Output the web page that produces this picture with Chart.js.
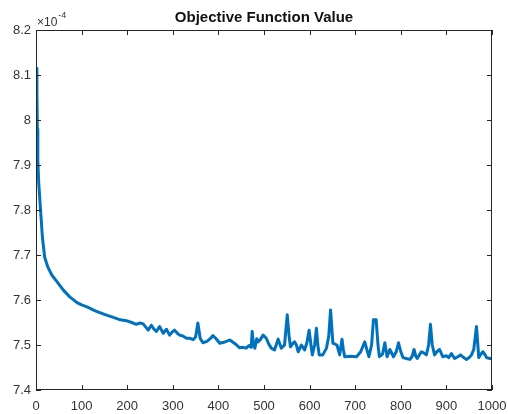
<!DOCTYPE html>
<html>
<head>
<meta charset="utf-8">
<script src="https://cdn.jsdelivr.net/npm/chart.js@4/dist/chart.umd.min.js"></script>
<style>
  html, body { margin: 0; padding: 0; background: #fff; }
  #wrap { width: 508px; height: 414px; position: relative; }
</style>
</head>
<body>
<div id="wrap"><canvas id="objChart"></canvas></div>
<script>
// valores (objetivo en unidades de 1e-4)
const iterations = [
  1, 2, 3, 4, 6, 10, 14, 19, 26, 35, 48, 60, 74, 90, 100, 113, 130, 150, 168, 185,
  198, 210, 220, 228, 235, 246, 253, 258, 264, 271, 279, 286, 293, 300, 304, 310, 315, 322, 330, 337,
  345, 350, 355, 360, 366, 375, 382, 388, 395, 403, 412, 420, 425, 432, 440, 446, 453, 461, 467, 472,
  474, 477, 480, 484, 487, 492, 498, 505, 510, 516, 523, 531, 538, 545, 551, 555, 558, 563, 567, 571,
  575, 582, 589, 594, 599, 603, 606, 611, 615, 618, 621, 629, 637, 642, 646, 651, 660, 666, 671, 674,
  677, 690, 703, 712, 721, 726, 730, 736, 740, 746, 750, 753, 760, 765, 770, 776, 784, 790, 795, 800,
  805, 812, 820, 825, 829, 833, 836, 845, 851, 856, 861, 865, 869, 874, 879, 885, 892, 900, 905, 911,
  918, 925, 931, 938, 944, 950, 955, 960, 966, 971, 976, 980, 985, 988, 995, 1000
];
const objValues = [
  8.115, 8.06, 7.98, 7.91, 7.86, 7.80, 7.74, 7.695, 7.673, 7.655, 7.638, 7.622, 7.607, 7.594, 7.589, 7.584, 7.576, 7.568, 7.562, 7.556,
  7.554, 7.550, 7.546, 7.549, 7.547, 7.533, 7.544, 7.536, 7.530, 7.541, 7.526, 7.535, 7.522, 7.530, 7.533, 7.526, 7.522, 7.520, 7.515, 7.515,
  7.512, 7.518, 7.549, 7.515, 7.505, 7.508, 7.514, 7.521, 7.514, 7.504, 7.506, 7.509, 7.511, 7.506, 7.500, 7.494, 7.495, 7.493, 7.499, 7.495,
  7.530, 7.500, 7.493, 7.514, 7.507, 7.512, 7.522, 7.515, 7.503, 7.493, 7.489, 7.513, 7.493, 7.500, 7.567, 7.520, 7.496, 7.503, 7.507, 7.500,
  7.485, 7.500, 7.489, 7.505, 7.533, 7.500, 7.478, 7.500, 7.537, 7.500, 7.478, 7.478, 7.493, 7.520, 7.578, 7.504, 7.500, 7.478, 7.513, 7.490,
  7.474, 7.475, 7.474, 7.485, 7.507, 7.488, 7.474, 7.500, 7.556, 7.556, 7.500, 7.474, 7.480, 7.505, 7.474, 7.490, 7.474, 7.485, 7.505, 7.485,
  7.472, 7.470, 7.468, 7.475, 7.490, 7.475, 7.470, 7.485, 7.482, 7.478, 7.500, 7.546, 7.500, 7.478, 7.485, 7.490, 7.474, 7.476, 7.472, 7.481,
  7.470, 7.474, 7.478, 7.472, 7.468, 7.472, 7.478, 7.490, 7.541, 7.472, 7.480, 7.485, 7.478, 7.472, 7.470, 7.470
];
const xTicks = { min: 0, max: 1000, step: 100 };
const yTicks = { min: 7.4, max: 8.2, step: 0.1 };
const chartTitle = 'Objective Function Value';
const yExponent = '-4';

const FONT = "'Liberation Sans', Arial, sans-serif";
const TEXT_COLOR = '#333333';
const AXIS_COLOR = '#262626';

// marco tipo MATLAB: caja, ticks hacia dentro, título y exponente
const matlabFrame = {
  id: 'matlabFrame',
  afterDraw(chart) {
    const { ctx, chartArea: a, scales: { x, y } } = chart;
    const tl = 5;
    ctx.save();
    ctx.strokeStyle = AXIS_COLOR;
    ctx.lineWidth = 1;
    ctx.strokeRect(Math.round(a.left) + 0.5, Math.round(a.top) + 0.5,
                   Math.round(a.width) - 1, Math.round(a.height) - 1);
    ctx.beginPath();
    x.ticks.forEach(t => {
      const px = Math.round(x.getPixelForValue(t.value)) + 0.5;
      ctx.moveTo(px, a.bottom); ctx.lineTo(px, a.bottom - tl);
      ctx.moveTo(px, a.top);    ctx.lineTo(px, a.top + tl);
    });
    y.ticks.forEach(t => {
      const py = Math.round(y.getPixelForValue(t.value)) + 0.5;
      ctx.moveTo(a.left, py);  ctx.lineTo(a.left + tl, py);
      ctx.moveTo(a.right, py); ctx.lineTo(a.right - tl, py);
    });
    ctx.stroke();

    // título
    ctx.fillStyle = '#111';
    ctx.font = 'bold 15px ' + FONT;
    ctx.textAlign = 'center';
    ctx.textBaseline = 'alphabetic';
    ctx.fillText(chartTitle, (a.left + a.right) / 2, 22);

    // ×10^-4
    ctx.fillStyle = TEXT_COLOR;
    ctx.textAlign = 'left';
    ctx.font = '12px ' + FONT;
    ctx.fillText('\u00d710', a.left + 1, 26);
    const w = ctx.measureText('\u00d710').width;
    ctx.font = '9px ' + FONT;
    ctx.fillText(yExponent, a.left + 1 + w + 1, 18);
    ctx.restore();
  }
};

function initChart() {
  const ctx = document.getElementById('objChart').getContext('2d');
  return new Chart(ctx, {
    type: 'line',
    data: {
      datasets: [{
        label: chartTitle,
        data: iterations.map((it, i) => ({ x: it, y: objValues[i] })),
        borderColor: '#0072BD',
        borderWidth: 3,
        pointRadius: 0,
        tension: 0,
        fill: false,
        borderJoinStyle: 'round',
        borderCapStyle: 'round'
      }]
    },
    options: {
      responsive: true,
      maintainAspectRatio: false,
      animation: false,
      layout: { padding: { top: 30, right: 16, left: 0, bottom: 0 } },
      plugins: { legend: { display: false }, title: { display: false }, tooltip: { enabled: false } },
      scales: {
        x: {
          type: 'linear',
          min: xTicks.min, max: xTicks.max,
          border: { display: false },
          grid: { display: false, drawTicks: false },
          ticks: {
            stepSize: xTicks.step, padding: 9, maxRotation: 0, autoSkip: false,
            color: TEXT_COLOR, font: { family: FONT, size: 13 },
            callback: v => String(v)
          },
          afterFit: s => { s.height = 24; s.paddingLeft = 0; s.paddingRight = 0; }
        },
        y: {
          type: 'linear',
          min: yTicks.min, max: yTicks.max,
          border: { display: false },
          grid: { display: false, drawTicks: false },
          ticks: {
            stepSize: yTicks.step, padding: 5, autoSkip: false,
            color: TEXT_COLOR, font: { family: FONT, size: 13 },
            callback: v => String(Number(v.toFixed(1)))
          },
          afterFit: s => { s.width = 36; s.paddingTop = 0; s.paddingBottom = 0; }
        }
      }
    },
    plugins: [matlabFrame]
  });
}

document.addEventListener('DOMContentLoaded', () => {
  initChart();
});
</script>
</body>
</html>
